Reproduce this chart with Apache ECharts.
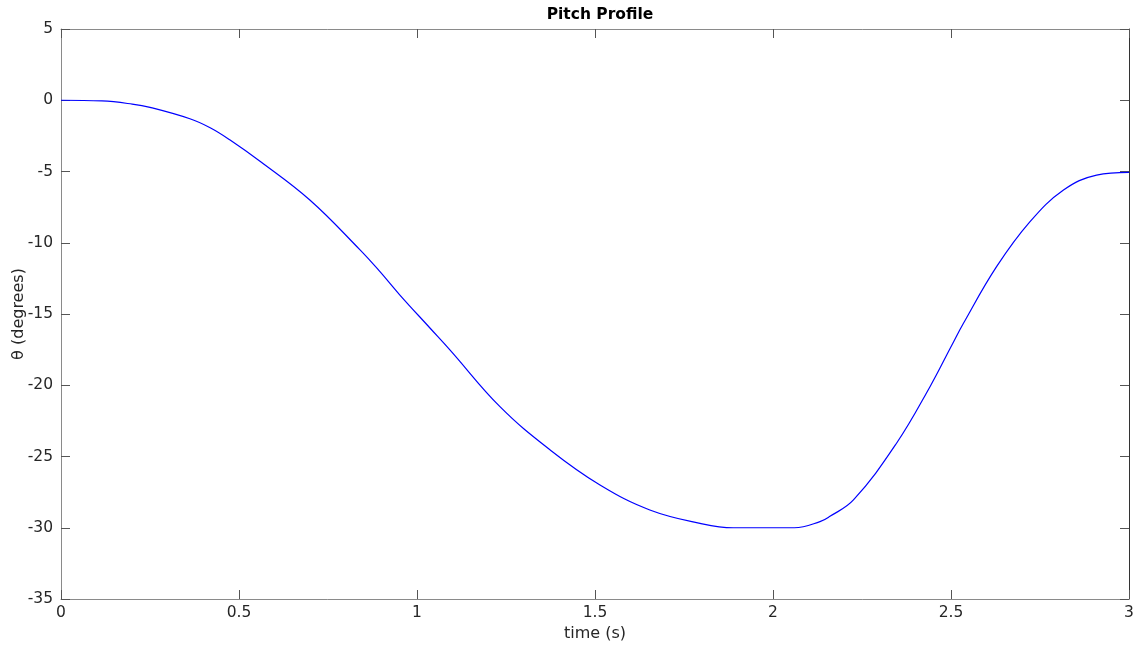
<!DOCTYPE html>
<html>
<head>
<meta charset="utf-8">
<script src="https://cdn.jsdelivr.net/npm/echarts@6/dist/echarts.min.js"></script>
<style>html,body{margin:0;padding:0;background:#fff;}#c{width:1143px;height:647px;}</style>
</head>
<body>
<div id="c"></div>
<script>
var timeS = [0, 0.115, 0.2, 0.25, 0.362, 0.419, 0.475, 0.559, 0.699, 0.84, 0.896, 0.952, 1.037, 1.093, 1.233, 1.374, 1.514, 1.654, 1.795, 1.888, 2.06, 2.132, 2.16, 2.226, 2.347, 2.441, 2.5, 2.535, 2.628, 2.722, 2.816, 2.909, 3.0];
var pitchDeg = [0, -0.05, -0.27, -0.5, -1.3, -1.93, -2.79, -4.28, -7.0, -10.5, -12.03, -13.67, -16.0, -17.53, -21.5, -24.54, -27.0, -28.75, -29.69, -30.0, -30.0, -29.57, -29.2, -28.05, -24.07, -20.1, -17.3, -15.65, -11.68, -8.52, -6.3, -5.25, -5.06];
var titleText = 'Pitch Profile';
var xName = 'time (s)';
var yName = 'θ (degrees)';

var pts = timeS.map(function (t, i) { return [t, pitchDeg[i]]; });
var font = 'DejaVu Sans';
var chart = echarts.init(document.getElementById('c'), null, {renderer: 'canvas'});
var axisGray = '#8a8a8a';
var tickCol = '#555';
chart.setOption({
  animation: false,
  backgroundColor: '#fff',
  title: {
    text: titleText, left: 595, top: 2, textAlign: 'center',
    textStyle: {fontFamily: font, fontSize: 15.5, fontWeight: 'bold', color: '#000'}
  },
  grid: {left: 61, right: 14, top: 29, bottom: 48, containLabel: false, outerBoundsMode: 'none'},
  xAxis: [{
    type: 'value', min: 0, max: 3, interval: 0.5, position: 'bottom',
    name: xName, nameLocation: 'middle', nameGap: 27, nameMoveOverlap: false,
    nameTextStyle: {fontFamily: font, fontSize: 16, color: '#262626'},
    axisLine: {show: true, onZero: false, lineStyle: {color: axisGray, width: 1}},
    axisTick: {show: true, inside: true, length: 9, lineStyle: {color: tickCol}},
    axisLabel: {fontFamily: font, fontSize: 15.5, color: '#262626', margin: 6},
    splitLine: {show: false}
  }, {
    type: 'value', min: 0, max: 3, interval: 0.5, position: 'top',
    axisLine: {show: true, onZero: false, lineStyle: {color: axisGray, width: 1}},
    axisTick: {show: true, inside: true, length: 9, lineStyle: {color: tickCol}},
    axisLabel: {show: false}, splitLine: {show: false}
  }],
  yAxis: [{
    type: 'value', min: -35, max: 5, interval: 5, position: 'left',
    name: yName, nameLocation: 'middle', nameGap: 34, nameRotate: 90, nameMoveOverlap: false,
    nameTextStyle: {fontFamily: font, fontSize: 16, color: '#262626'},
    axisLine: {show: true, onZero: false, lineStyle: {color: axisGray, width: 1}},
    axisTick: {show: true, inside: true, length: 9, lineStyle: {color: tickCol}},
    axisLabel: {fontFamily: font, fontSize: 15.5, color: '#262626', margin: 8},
    splitLine: {show: false}
  }, {
    type: 'value', min: -35, max: 5, interval: 5, position: 'right',
    axisLine: {show: true, onZero: false, lineStyle: {color: '#333', width: 1}},
    axisTick: {show: true, inside: true, length: 9, lineStyle: {color: tickCol}},
    axisLabel: {show: false}, splitLine: {show: false}
  }],
  series: [{
    type: 'line', data: pts, xAxisIndex: 0, yAxisIndex: 0,
    smooth: 0.4, showSymbol: false,
    lineStyle: {color: '#0000ff', width: 1.2}
  }]
});
</script>
</body>
</html>
